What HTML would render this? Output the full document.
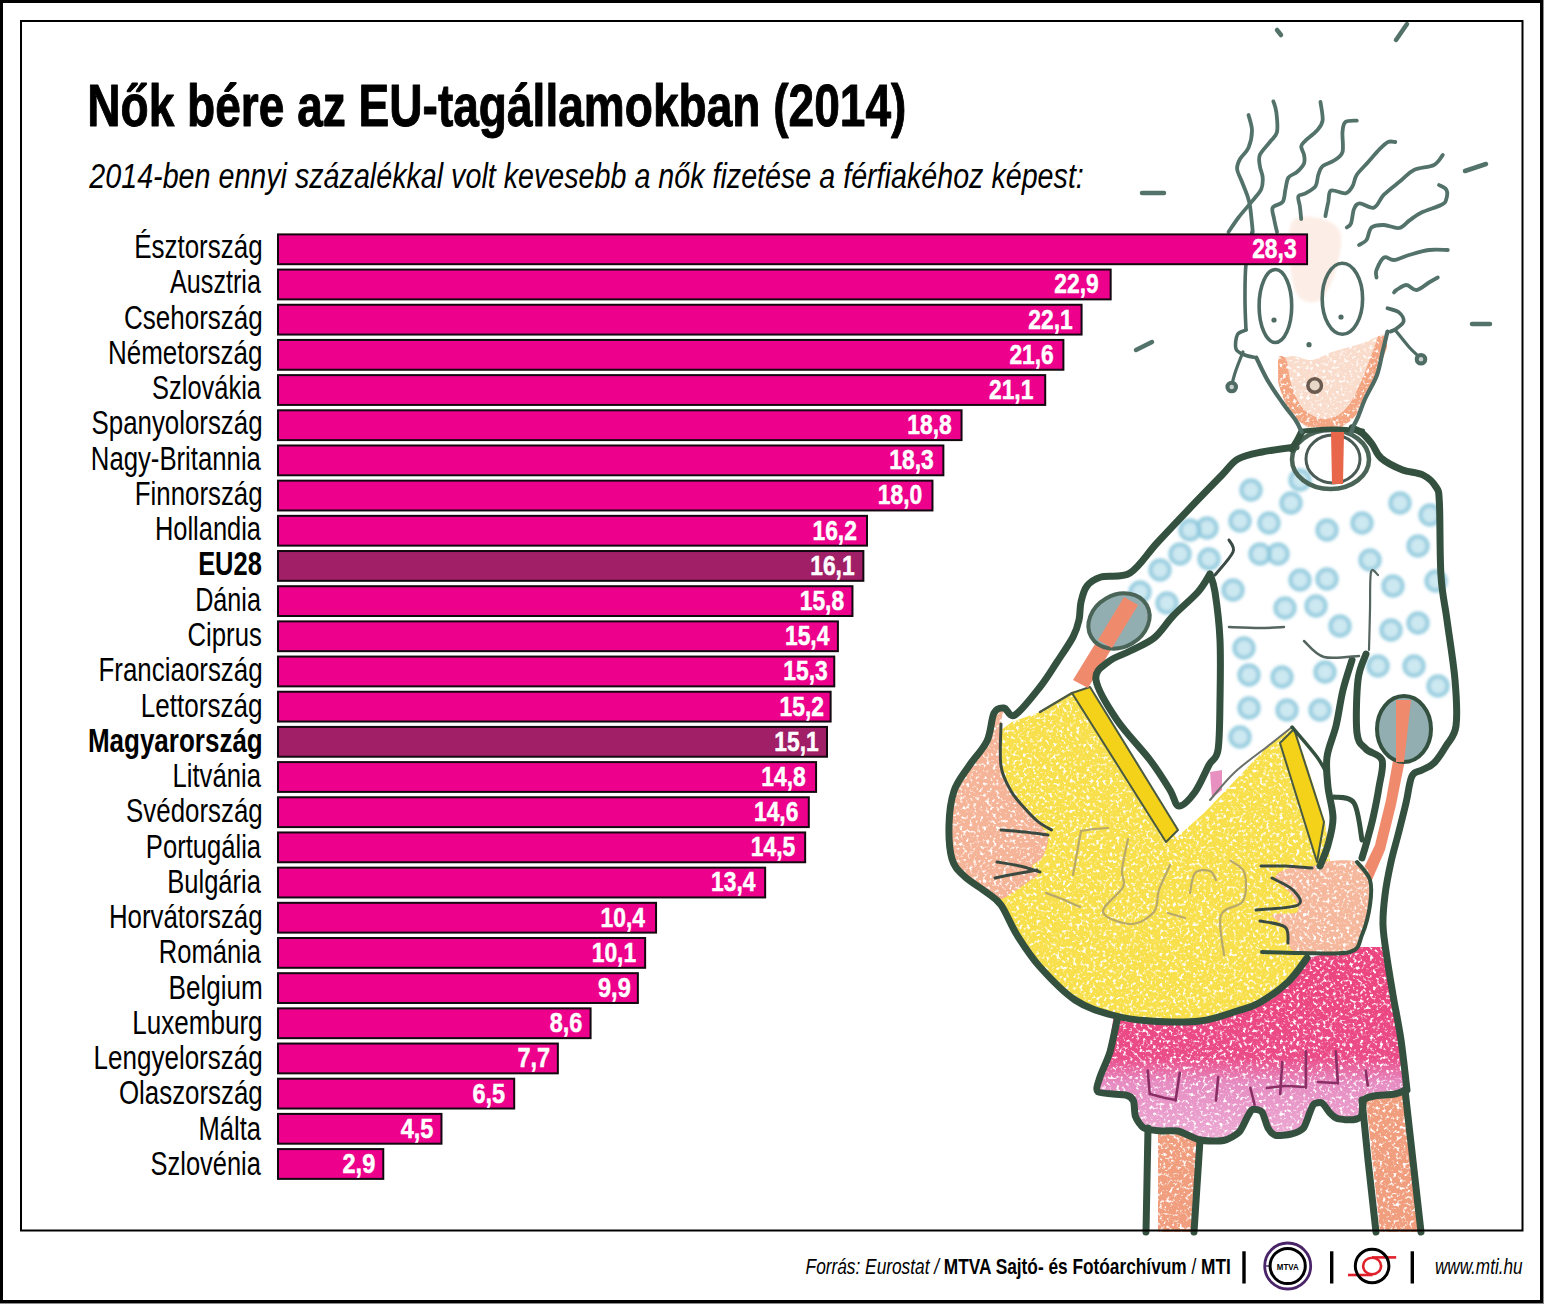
<!DOCTYPE html>
<html><head><meta charset="utf-8"><style>
html,body{margin:0;padding:0;background:#fff;overflow:hidden;}
svg{display:block;font-family:'Liberation Sans', sans-serif;}
</style></head><body>
<svg width="1544" height="1304" viewBox="0 0 1544 1304">
<rect width="1544" height="1304" fill="#fff"/>
<g id="illus">
<defs>
<filter id="blur1" x="-20%" y="-20%" width="140%" height="140%"><feGaussianBlur stdDeviation="1.8"/></filter>
<linearGradient id="skirtg" x1="0" y1="990" x2="0" y2="1150" gradientUnits="userSpaceOnUse">
<stop offset="0" stop-color="#ec4680"/><stop offset="0.42" stop-color="#ea4c88"/><stop offset="0.58" stop-color="#e68cc2"/><stop offset="1" stop-color="#eeb2d8"/></linearGradient>
<filter id="crayon" x="-2%" y="-2%" width="104%" height="104%" color-interpolation-filters="sRGB">
<feTurbulence type="fractalNoise" baseFrequency="0.3" numOctaves="2" seed="7" result="noise"/>
<feColorMatrix in="noise" type="matrix" values="0 0 0 0 1  0 0 0 0 1  0 0 0 0 1  5 0 0 0 -2.7" result="speck"/>
<feComposite in="speck" in2="SourceGraphic" operator="atop"/>
</filter>
</defs>
<path d="M1280.0,364.0 C1281.2,357.5 1286.7,356.7 1292.0,356.0 C1297.3,355.3 1305.3,360.7 1312.0,360.0 C1318.7,359.3 1324.0,354.7 1332.0,352.0 C1340.0,349.3 1351.0,346.8 1360.0,344.0 C1369.0,341.2 1383.0,332.0 1386.0,335.0 C1389.0,338.0 1381.5,352.8 1378.0,362.0 C1374.5,371.2 1369.5,381.3 1365.0,390.0 C1360.5,398.7 1355.8,407.7 1351.0,414.0 C1346.2,420.3 1342.5,425.3 1336.0,428.0 C1329.5,430.7 1318.7,432.0 1312.0,430.0 C1305.3,428.0 1300.5,421.8 1296.0,416.0 C1291.5,410.2 1287.7,403.7 1285.0,395.0 C1282.3,386.3 1278.8,370.5 1280.0,364.0Z" fill="#f9dccb" stroke="none" stroke-width="0" stroke-linecap="round" stroke-linejoin="round" filter="url(#crayon)"/>
<path d="M1281.0,362.0 C1281.8,366.3 1283.2,379.7 1286.0,388.0 C1288.8,396.3 1292.7,406.0 1298.0,412.0 C1303.3,418.0 1311.3,422.3 1318.0,424.0 C1324.7,425.7 1332.0,424.7 1338.0,422.0 C1344.0,419.3 1349.3,414.2 1354.0,408.0 C1358.7,401.8 1362.3,393.0 1366.0,385.0 C1369.7,377.0 1373.0,367.8 1376.0,360.0 C1379.0,352.2 1382.7,341.7 1384.0,338.0" fill="none" stroke="#f4a582" stroke-width="12" stroke-linecap="round" stroke-linejoin="round" filter="url(#crayon)"/>
<path d="M1292.0,222.0 C1296.7,214.7 1310.0,216.3 1318.0,218.0 C1326.0,219.7 1337.0,223.3 1340.0,232.0 C1343.0,240.7 1339.3,258.7 1336.0,270.0 C1332.7,281.3 1326.3,295.7 1320.0,300.0 C1313.7,304.3 1303.0,302.3 1298.0,296.0 C1293.0,289.7 1291.0,274.3 1290.0,262.0 C1289.0,249.7 1287.3,229.3 1292.0,222.0Z" fill="#f7cdb8" stroke="none" stroke-width="0" stroke-linecap="round" stroke-linejoin="round" opacity="0.35" filter="url(#blur1)"/>
<path d="M1158.0,1130.0 L1198.0,1138.0 L1192.0,1232.0 L1158.0,1232.0Z" fill="#f09e7e" stroke="none" stroke-width="0" stroke-linecap="round" stroke-linejoin="round" filter="url(#crayon)"/>
<path d="M1366.0,1100.0 L1404.0,1094.0 L1420.0,1232.0 L1380.0,1232.0Z" fill="#f09e7e" stroke="none" stroke-width="0" stroke-linecap="round" stroke-linejoin="round" filter="url(#crayon)"/>
<g filter="url(#blur1)"><circle cx="1251" cy="490" r="9.5" fill="#c4e4ef" stroke="#8cc8dc" stroke-width="4.5" opacity="0.85"/><circle cx="1291" cy="503" r="9.5" fill="#c4e4ef" stroke="#8cc8dc" stroke-width="4.5" opacity="0.85"/><circle cx="1362" cy="523" r="9.5" fill="#c4e4ef" stroke="#8cc8dc" stroke-width="4.5" opacity="0.85"/><circle cx="1400" cy="503" r="9.5" fill="#c4e4ef" stroke="#8cc8dc" stroke-width="4.5" opacity="0.85"/><circle cx="1418" cy="546" r="9.5" fill="#c4e4ef" stroke="#8cc8dc" stroke-width="4.5" opacity="0.85"/><circle cx="1240" cy="521" r="9.5" fill="#c4e4ef" stroke="#8cc8dc" stroke-width="4.5" opacity="0.85"/><circle cx="1269" cy="523" r="9.5" fill="#c4e4ef" stroke="#8cc8dc" stroke-width="4.5" opacity="0.85"/><circle cx="1327" cy="530" r="9.5" fill="#c4e4ef" stroke="#8cc8dc" stroke-width="4.5" opacity="0.85"/><circle cx="1278" cy="554" r="9.5" fill="#c4e4ef" stroke="#8cc8dc" stroke-width="4.5" opacity="0.85"/><circle cx="1260" cy="554" r="9.5" fill="#c4e4ef" stroke="#8cc8dc" stroke-width="4.5" opacity="0.85"/><circle cx="1207" cy="528" r="9.5" fill="#c4e4ef" stroke="#8cc8dc" stroke-width="4.5" opacity="0.85"/><circle cx="1180" cy="554" r="9.5" fill="#c4e4ef" stroke="#8cc8dc" stroke-width="4.5" opacity="0.85"/><circle cx="1160" cy="570" r="9.5" fill="#c4e4ef" stroke="#8cc8dc" stroke-width="4.5" opacity="0.85"/><circle cx="1209" cy="559" r="9.5" fill="#c4e4ef" stroke="#8cc8dc" stroke-width="4.5" opacity="0.85"/><circle cx="1167" cy="603" r="9.5" fill="#c4e4ef" stroke="#8cc8dc" stroke-width="4.5" opacity="0.85"/><circle cx="1233" cy="590" r="9.5" fill="#c4e4ef" stroke="#8cc8dc" stroke-width="4.5" opacity="0.85"/><circle cx="1327" cy="579" r="9.5" fill="#c4e4ef" stroke="#8cc8dc" stroke-width="4.5" opacity="0.85"/><circle cx="1285" cy="608" r="9.5" fill="#c4e4ef" stroke="#8cc8dc" stroke-width="4.5" opacity="0.85"/><circle cx="1316" cy="606" r="9.5" fill="#c4e4ef" stroke="#8cc8dc" stroke-width="4.5" opacity="0.85"/><circle cx="1340" cy="626" r="9.5" fill="#c4e4ef" stroke="#8cc8dc" stroke-width="4.5" opacity="0.85"/><circle cx="1393" cy="586" r="9.5" fill="#c4e4ef" stroke="#8cc8dc" stroke-width="4.5" opacity="0.85"/><circle cx="1391" cy="630" r="9.5" fill="#c4e4ef" stroke="#8cc8dc" stroke-width="4.5" opacity="0.85"/><circle cx="1418" cy="623" r="9.5" fill="#c4e4ef" stroke="#8cc8dc" stroke-width="4.5" opacity="0.85"/><circle cx="1436" cy="581" r="9.5" fill="#c4e4ef" stroke="#8cc8dc" stroke-width="4.5" opacity="0.85"/><circle cx="1244" cy="648" r="9.5" fill="#c4e4ef" stroke="#8cc8dc" stroke-width="4.5" opacity="0.85"/><circle cx="1249" cy="675" r="9.5" fill="#c4e4ef" stroke="#8cc8dc" stroke-width="4.5" opacity="0.85"/><circle cx="1282" cy="677" r="9.5" fill="#c4e4ef" stroke="#8cc8dc" stroke-width="4.5" opacity="0.85"/><circle cx="1325" cy="672" r="9.5" fill="#c4e4ef" stroke="#8cc8dc" stroke-width="4.5" opacity="0.85"/><circle cx="1378" cy="666" r="9.5" fill="#c4e4ef" stroke="#8cc8dc" stroke-width="4.5" opacity="0.85"/><circle cx="1414" cy="666" r="9.5" fill="#c4e4ef" stroke="#8cc8dc" stroke-width="4.5" opacity="0.85"/><circle cx="1438" cy="686" r="9.5" fill="#c4e4ef" stroke="#8cc8dc" stroke-width="4.5" opacity="0.85"/><circle cx="1249" cy="708" r="9.5" fill="#c4e4ef" stroke="#8cc8dc" stroke-width="4.5" opacity="0.85"/><circle cx="1287" cy="710" r="9.5" fill="#c4e4ef" stroke="#8cc8dc" stroke-width="4.5" opacity="0.85"/><circle cx="1320" cy="710" r="9.5" fill="#c4e4ef" stroke="#8cc8dc" stroke-width="4.5" opacity="0.85"/><circle cx="1240" cy="737" r="9.5" fill="#c4e4ef" stroke="#8cc8dc" stroke-width="4.5" opacity="0.85"/><circle cx="1140" cy="592" r="9.5" fill="#c4e4ef" stroke="#8cc8dc" stroke-width="4.5" opacity="0.85"/><circle cx="1190" cy="530" r="9.5" fill="#c4e4ef" stroke="#8cc8dc" stroke-width="4.5" opacity="0.85"/><circle cx="1300" cy="480" r="9.5" fill="#c4e4ef" stroke="#8cc8dc" stroke-width="4.5" opacity="0.85"/><circle cx="1430" cy="515" r="9.5" fill="#c4e4ef" stroke="#8cc8dc" stroke-width="4.5" opacity="0.85"/><circle cx="1370" cy="560" r="9.5" fill="#c4e4ef" stroke="#8cc8dc" stroke-width="4.5" opacity="0.85"/><circle cx="1300" cy="580" r="9.5" fill="#c4e4ef" stroke="#8cc8dc" stroke-width="4.5" opacity="0.85"/></g>
<path d="M1117.0,995.0 L1110.0,1040.0 L1100.0,1077.0 L1099.0,1095.0 L1126.0,1095.0 L1133.5,1101.0 L1135.5,1116.6 L1143.8,1128.0 L1161.5,1131.0 L1178.0,1131.0 L1200.0,1140.0 L1223.6,1140.5 L1239.2,1132.0 L1247.5,1116.6 L1252.6,1109.4 L1262.0,1112.0 L1268.0,1128.0 L1275.5,1135.3 L1291.0,1134.2 L1303.5,1128.0 L1310.0,1112.0 L1314.0,1104.0 L1322.0,1103.0 L1330.0,1113.0 L1337.7,1118.7 L1353.3,1119.7 L1361.5,1115.6 L1364.0,1100.0 L1374.0,1096.0 L1394.7,1094.0 L1406.0,1090.0 L1401.0,1040.0 L1393.0,995.0 L1387.0,958.0 L1384.0,947.0 L1354.0,947.0 L1300.0,960.0 L1200.0,990.0Z" fill="url(#skirtg)" stroke="none" stroke-width="0" stroke-linecap="round" stroke-linejoin="round" filter="url(#crayon)"/>
<path d="M1210.0,772.0 L1222.0,770.0 L1222.0,790.0 L1212.0,798.0Z" fill="#e890c0" stroke="none" stroke-width="0" stroke-linecap="round" stroke-linejoin="round" />
<path d="M1176.0,838.0 L1090.0,688.0 L1072.0,692.0 L1040.0,712.0 L1012.0,722.0 L1001.0,730.0 L990.0,770.0 L975.0,820.0 L980.0,870.0 L1000.0,900.0 L1017.0,935.0 L1040.0,967.0 L1075.0,1000.0 L1112.0,1015.0 L1150.0,1021.0 L1200.0,1021.0 L1237.0,1011.0 L1259.0,1003.0 L1296.0,972.0 L1315.0,940.0 L1325.0,900.0 L1330.0,860.0 L1325.0,822.0 L1296.0,731.0 L1292.0,727.0 L1268.0,746.0 L1204.0,813.0Z" fill="#f8e04c" stroke="none" stroke-width="0" stroke-linecap="round" stroke-linejoin="round" filter="url(#crayon)"/>
<path d="M1072.0,693.0 L1090.0,687.0 L1178.0,830.0 L1166.0,842.0Z" fill="#f4d21a" stroke="#4a5a40" stroke-width="2" stroke-linecap="round" stroke-linejoin="round" />
<path d="M1280.0,743.0 L1294.0,729.0 L1324.0,822.0 L1317.0,862.0Z" fill="#f4d21a" stroke="#4a5a40" stroke-width="2" stroke-linecap="round" stroke-linejoin="round" />
<path d="M1292.0,727.0 C1288.0,730.2 1277.5,738.5 1268.0,746.0 C1258.5,753.5 1244.7,763.0 1235.0,772.0 C1225.3,781.0 1214.2,795.3 1210.0,800.0" fill="none" stroke="#6a7068" stroke-width="2" stroke-linecap="round" stroke-linejoin="round" />
<path d="M1040.0,712.0 C1045.3,708.8 1066.7,696.2 1072.0,693.0" fill="none" stroke="#4a5a40" stroke-width="2.5" stroke-linecap="round" stroke-linejoin="round" />
<path d="M1081.0,831.0 C1083.2,830.7 1089.5,829.5 1094.0,829.0 C1098.5,828.5 1105.7,828.2 1108.0,828.0" fill="none" stroke="#b8a86a" stroke-width="2.2" stroke-linecap="round" stroke-linejoin="round" />
<path d="M1081.0,831.0 C1080.3,834.7 1078.3,845.7 1077.0,853.0 C1075.7,860.3 1073.7,871.3 1073.0,875.0" fill="none" stroke="#b8a86a" stroke-width="2.2" stroke-linecap="round" stroke-linejoin="round" />
<path d="M1046.0,893.0 C1048.7,894.0 1056.3,896.7 1062.0,899.0 C1067.7,901.3 1077.0,905.7 1080.0,907.0" fill="none" stroke="#b8a86a" stroke-width="2.2" stroke-linecap="round" stroke-linejoin="round" />
<path d="M1128.0,839.0 C1127.0,844.2 1122.8,862.0 1122.0,870.0 C1121.2,878.0 1126.2,880.0 1123.0,887.0 C1119.8,894.0 1101.7,905.8 1103.0,912.0 C1104.3,918.2 1122.5,924.0 1131.0,924.0 C1139.5,924.0 1149.3,917.7 1154.0,912.0 C1158.7,906.3 1156.3,897.8 1159.0,890.0 C1161.7,882.2 1168.2,869.2 1170.0,865.0" fill="none" stroke="#b8a86a" stroke-width="2.2" stroke-linecap="round" stroke-linejoin="round" />
<path d="M1190.0,893.0 C1190.8,889.7 1191.7,876.7 1195.0,873.0 C1198.3,869.3 1206.5,869.8 1210.0,871.0 C1213.5,872.2 1215.0,878.5 1216.0,880.0" fill="none" stroke="#b8a86a" stroke-width="2.2" stroke-linecap="round" stroke-linejoin="round" />
<path d="M1168.0,913.0 C1170.8,913.8 1182.2,917.2 1185.0,918.0" fill="none" stroke="#b8a86a" stroke-width="2.2" stroke-linecap="round" stroke-linejoin="round" />
<path d="M1230.5,860.6 C1232.8,862.7 1242.4,866.3 1244.5,873.0 C1246.6,879.7 1246.9,894.0 1243.0,901.0 C1239.1,908.0 1224.2,906.0 1221.0,915.0 C1217.8,924.0 1223.5,948.3 1224.0,955.0" fill="none" stroke="#b8a86a" stroke-width="2.2" stroke-linecap="round" stroke-linejoin="round" />
<path d="M1122.0,600.0 L1136.0,608.0 L1088.0,688.0 L1073.0,680.0Z" fill="#ef8a6c" stroke="none" stroke-width="0" stroke-linecap="round" stroke-linejoin="round" />
<path d="M1394.0,700.0 L1412.0,700.0 L1405.0,760.0 L1396.0,805.0 L1385.0,850.0 L1372.0,880.0 L1360.0,876.0 L1375.0,845.0 L1386.0,800.0 L1394.0,755.0Z" fill="#ef8a6c" stroke="none" stroke-width="0" stroke-linecap="round" stroke-linejoin="round" />
<path d="M1004.0,709.0 C1002.8,707.3 996.8,708.7 994.0,714.0 C991.2,719.3 991.2,732.3 987.0,741.0 C982.8,749.7 974.5,757.7 969.0,766.0 C963.5,774.3 957.3,781.2 954.0,791.0 C950.7,800.8 949.3,813.7 949.0,825.0 C948.7,836.3 949.5,850.5 952.0,859.0 C954.5,867.5 958.3,870.5 964.0,876.0 C969.7,881.5 980.0,888.2 986.0,892.0 C992.0,895.8 995.7,898.8 1000.0,899.0 C1004.3,899.2 1007.3,895.8 1012.0,893.0 C1016.7,890.2 1023.7,885.2 1028.0,882.0 C1032.3,878.8 1037.3,876.7 1038.0,874.0 C1038.7,871.3 1031.3,868.7 1032.0,866.0 C1032.7,863.3 1039.3,862.7 1042.0,858.0 C1044.7,853.3 1048.7,844.0 1048.0,838.0 C1047.3,832.0 1042.0,827.0 1038.0,822.0 C1034.0,817.0 1028.5,813.2 1024.0,808.0 C1019.5,802.8 1014.8,798.0 1011.0,791.0 C1007.2,784.0 1002.7,777.2 1001.0,766.0 C999.3,754.8 1000.5,733.5 1001.0,724.0 C1001.5,714.5 1005.2,710.7 1004.0,709.0Z" fill="#f5b498" stroke="none" stroke-width="0" stroke-linecap="round" stroke-linejoin="round" filter="url(#crayon)"/>
<path d="M1331.0,861.0 C1323.5,861.7 1318.8,864.8 1312.0,866.0 C1305.2,867.2 1296.2,866.0 1290.0,868.0 C1283.8,870.0 1274.5,873.3 1275.0,878.0 C1275.5,882.7 1289.3,890.3 1293.0,896.0 C1296.7,901.7 1300.5,908.8 1297.0,912.0 C1293.5,915.2 1273.8,912.3 1272.0,915.0 C1270.2,917.7 1283.3,923.3 1286.0,928.0 C1288.7,932.7 1285.7,938.8 1288.0,943.0 C1290.3,947.2 1289.7,951.5 1300.0,953.0 C1310.3,954.5 1339.7,955.0 1350.0,952.0 C1360.3,949.0 1358.7,942.8 1362.0,935.0 C1365.3,927.2 1368.7,915.0 1370.0,905.0 C1371.3,895.0 1372.2,882.2 1370.0,875.0 C1367.8,867.8 1363.5,864.3 1357.0,862.0 C1350.5,859.7 1338.5,860.3 1331.0,861.0Z" fill="#f6b89c" stroke="none" stroke-width="0" stroke-linecap="round" stroke-linejoin="round" filter="url(#crayon)"/>
<path d="M1296.0,447.0 C1290.3,447.8 1271.7,450.0 1262.0,452.0 C1252.3,454.0 1244.7,455.2 1238.0,459.0 C1231.3,462.8 1230.0,466.8 1222.0,475.0 C1214.0,483.2 1200.8,496.7 1190.0,508.0 C1179.2,519.3 1167.0,532.2 1157.0,543.0 C1147.0,553.8 1139.3,567.3 1130.0,573.0 C1120.7,578.7 1108.2,574.8 1101.0,577.0 C1093.8,579.2 1090.3,581.8 1087.0,586.0 C1083.7,590.2 1082.3,596.3 1081.0,602.0 C1079.7,607.7 1080.3,614.2 1079.0,620.0 C1077.7,625.8 1076.7,630.0 1073.0,637.0 C1069.3,644.0 1062.5,653.7 1057.0,662.0 C1051.5,670.3 1047.0,678.2 1040.0,687.0 C1033.0,695.8 1021.0,711.5 1015.0,715.0 C1009.0,718.5 1007.5,708.3 1004.0,708.0 C1000.5,707.7 996.8,707.5 994.0,713.0 C991.2,718.5 991.2,732.2 987.0,741.0 C982.8,749.8 974.5,757.7 969.0,766.0 C963.5,774.3 957.3,781.2 954.0,791.0 C950.7,800.8 949.3,813.7 949.0,825.0 C948.7,836.3 949.5,850.5 952.0,859.0 C954.5,867.5 958.3,870.5 964.0,876.0 C969.7,881.5 979.8,887.2 986.0,892.0 C992.2,896.8 995.8,897.8 1001.0,905.0 C1006.2,912.2 1010.5,924.7 1017.0,935.0 C1023.5,945.3 1030.3,956.2 1040.0,967.0 C1049.7,977.8 1063.0,992.0 1075.0,1000.0 C1087.0,1008.0 1099.5,1011.5 1112.0,1015.0 C1124.5,1018.5 1135.3,1020.0 1150.0,1021.0 C1164.7,1022.0 1185.5,1022.7 1200.0,1021.0 C1214.5,1019.3 1227.2,1014.0 1237.0,1011.0 C1246.8,1008.0 1250.5,1007.8 1259.0,1003.0 C1267.5,998.2 1280.0,989.5 1288.0,982.0 C1296.0,974.5 1303.8,962.0 1307.0,958.0" fill="none" stroke="#34503f" stroke-width="7" stroke-linecap="round" stroke-linejoin="round" />
<path d="M1210.0,574.0 C1208.0,577.0 1204.2,585.0 1198.0,592.0 C1191.8,599.0 1180.3,608.3 1173.0,616.0 C1165.7,623.7 1161.2,632.2 1154.0,638.0 C1146.8,643.8 1137.7,647.0 1130.0,651.0 C1122.3,655.0 1113.7,657.2 1108.0,662.0 C1102.3,666.8 1094.5,670.3 1096.0,680.0 C1097.5,689.7 1108.0,706.7 1117.0,720.0 C1126.0,733.3 1141.2,748.3 1150.0,760.0 C1158.8,771.7 1165.2,782.3 1170.0,790.0 C1174.8,797.7 1174.8,805.7 1179.0,806.0 C1183.2,806.3 1190.0,798.8 1195.0,792.0 C1200.0,785.2 1205.2,772.0 1209.0,765.0 C1212.8,758.0 1216.2,760.8 1218.0,750.0 C1219.8,739.2 1219.7,718.3 1220.0,700.0 C1220.3,681.7 1220.8,658.0 1220.0,640.0 C1219.2,622.0 1216.7,603.0 1215.0,592.0 C1213.3,581.0 1210.8,577.0 1210.0,574.0" fill="none" stroke="#34503f" stroke-width="7" stroke-linecap="round" stroke-linejoin="round" />
<path d="M1001.0,724.0 C1001.0,731.0 999.3,754.8 1001.0,766.0 C1002.7,777.2 1007.1,784.0 1011.0,791.0 C1014.9,798.0 1020.0,802.9 1024.5,808.0 C1029.0,813.1 1033.5,817.9 1038.0,821.6 C1042.5,825.3 1049.2,828.6 1051.5,830.0" fill="none" stroke="#3a4a40" stroke-width="3" stroke-linecap="round" stroke-linejoin="round" />
<path d="M1001.0,830.0 C1005.0,830.3 1017.2,831.2 1025.0,832.0 C1032.8,832.8 1044.2,834.5 1048.0,835.0" fill="none" stroke="#3a4a40" stroke-width="3" stroke-linecap="round" stroke-linejoin="round" />
<path d="M997.0,862.0 C1000.8,862.7 1012.8,864.3 1020.0,866.0 C1027.2,867.7 1036.7,871.0 1040.0,872.0" fill="none" stroke="#3a4a40" stroke-width="3" stroke-linecap="round" stroke-linejoin="round" />
<path d="M995.0,878.0 C998.3,877.3 1008.0,875.3 1015.0,874.0 C1022.0,872.7 1033.3,870.7 1037.0,870.0" fill="none" stroke="#3a4a40" stroke-width="3" stroke-linecap="round" stroke-linejoin="round" />
<ellipse cx="1119" cy="621" rx="32" ry="26" transform="rotate(-30 1119 621)" fill="#93aeb0" stroke="#4a6458" stroke-width="4"/>
<path d="M1124.0,597.0 L1138.0,605.0 L1112.0,648.0 L1098.0,640.0Z" fill="#ef8a6c" stroke="none" stroke-width="0" stroke-linecap="round" stroke-linejoin="round" />
<path d="M1352.0,428.0 C1353.7,428.8 1358.7,430.3 1362.0,433.0 C1365.3,435.7 1368.8,439.8 1372.0,444.0 C1375.2,448.2 1376.0,453.7 1381.0,458.0 C1386.0,462.3 1395.0,466.9 1402.0,469.7 C1409.0,472.5 1417.3,472.1 1423.0,475.0 C1428.7,477.9 1433.3,482.3 1436.0,487.0 C1438.7,491.7 1438.6,488.2 1439.4,503.0 C1440.2,517.8 1439.7,556.5 1441.0,576.0 C1442.3,595.5 1444.7,602.7 1447.0,620.0 C1449.3,637.3 1453.5,662.3 1455.0,680.0 C1456.5,697.7 1457.5,715.0 1456.0,726.0 C1454.5,737.0 1449.7,739.8 1446.0,746.0 C1442.3,752.2 1438.0,759.0 1434.0,763.0 C1430.0,767.0 1425.7,767.8 1422.0,770.0 C1418.3,772.2 1414.7,770.5 1412.0,776.0 C1409.3,781.5 1408.3,793.2 1406.0,803.0 C1403.7,812.8 1400.5,825.2 1398.0,835.0 C1395.5,844.8 1393.2,852.0 1391.0,862.0 C1388.8,872.0 1386.3,884.5 1385.0,895.0 C1383.7,905.5 1382.7,914.5 1383.0,925.0 C1383.3,935.5 1385.3,946.3 1387.0,958.0 C1388.7,969.7 1390.7,981.3 1393.0,995.0 C1395.3,1008.7 1398.7,1024.2 1401.0,1040.0 C1403.3,1055.8 1406.0,1081.7 1407.0,1090.0" fill="none" stroke="#34503f" stroke-width="7" stroke-linecap="round" stroke-linejoin="round" />
<path d="M1366.0,654.0 C1364.7,658.3 1359.5,666.8 1358.0,680.0 C1356.5,693.2 1355.7,721.5 1357.0,733.0 C1358.3,744.5 1361.8,744.5 1366.0,749.0 C1370.2,753.5 1379.8,753.7 1382.0,760.0 C1384.2,766.3 1380.5,777.3 1379.0,787.0 C1377.5,796.7 1375.0,809.0 1373.0,818.0 C1371.0,827.0 1368.8,834.3 1367.0,841.0 C1365.2,847.7 1362.8,855.2 1362.0,858.0" fill="none" stroke="#34503f" stroke-width="7" stroke-linecap="round" stroke-linejoin="round" />
<ellipse cx="1404" cy="729" rx="27" ry="33" fill="#93aeb0" stroke="#34503f" stroke-width="4"/>
<path d="M1396.0,700.0 L1411.0,700.0 L1406.0,745.0 L1404.0,762.0 L1396.0,762.0 L1396.0,745.0Z" fill="#ef8a6c" stroke="none" stroke-width="0" stroke-linecap="round" stroke-linejoin="round" />
<path d="M1352.0,660.0 C1350.5,665.0 1345.7,679.0 1343.0,690.0 C1340.3,701.0 1338.7,714.8 1336.0,726.0 C1333.3,737.2 1328.3,746.8 1327.0,757.0 C1325.7,767.2 1327.0,776.8 1328.0,787.0 C1329.0,797.2 1333.0,808.3 1333.0,818.0 C1333.0,827.7 1330.2,837.0 1328.0,845.0 C1325.8,853.0 1321.3,862.5 1320.0,866.0" fill="none" stroke="#34503f" stroke-width="7" stroke-linecap="round" stroke-linejoin="round" />
<path d="M1334.0,797.0 C1337.3,798.0 1349.3,795.8 1354.0,803.0 C1358.7,810.2 1360.7,833.8 1362.0,840.0" fill="none" stroke="#34503f" stroke-width="5" stroke-linecap="round" stroke-linejoin="round" />
<path d="M1292.0,727.0 C1296.2,732.0 1311.0,748.8 1317.0,757.0 C1323.0,765.2 1326.2,772.8 1328.0,776.0" fill="none" stroke="#34503f" stroke-width="3.5" stroke-linecap="round" stroke-linejoin="round" />
<path d="M1357.0,862.0 C1359.2,865.0 1367.8,872.8 1370.0,880.0 C1372.2,887.2 1371.3,895.8 1370.0,905.0 C1368.7,914.2 1365.3,927.2 1362.0,935.0 C1358.7,942.8 1360.3,949.0 1350.0,952.0 C1339.7,955.0 1314.7,953.0 1300.0,953.0 C1285.3,953.0 1268.3,952.2 1262.0,952.0" fill="none" stroke="#34503f" stroke-width="4" stroke-linecap="round" stroke-linejoin="round" />
<path d="M1312.0,868.0 C1307.5,867.7 1293.5,866.3 1285.0,866.0 C1276.5,865.7 1265.0,866.0 1261.0,866.0" fill="none" stroke="#3a4a40" stroke-width="3" stroke-linecap="round" stroke-linejoin="round" />
<path d="M1272.0,878.0 C1275.5,880.0 1288.7,885.5 1293.0,890.0 C1297.3,894.5 1304.2,901.7 1298.0,905.0 C1291.8,908.3 1263.0,909.2 1256.0,910.0" fill="none" stroke="#3a4a40" stroke-width="3" stroke-linecap="round" stroke-linejoin="round" />
<path d="M1260.0,921.0 C1264.2,922.0 1280.3,923.3 1285.0,927.0 C1289.7,930.7 1287.5,940.3 1288.0,943.0" fill="none" stroke="#3a4a40" stroke-width="3" stroke-linecap="round" stroke-linejoin="round" />
<path d="M1117.5,1018.0 C1116.6,1022.0 1112.0,1045.1 1110.0,1052.0 C1108.0,1058.9 1101.4,1072.3 1100.0,1077.0 C1098.6,1081.7 1095.0,1089.9 1098.0,1092.0 C1101.0,1094.1 1121.9,1094.0 1126.0,1095.0 C1130.1,1096.0 1132.4,1098.5 1133.5,1101.0 C1134.6,1103.5 1134.3,1113.4 1135.5,1116.6 C1136.7,1119.8 1140.8,1126.3 1143.8,1128.0 C1146.8,1129.7 1157.5,1130.7 1161.5,1131.0 C1165.5,1131.3 1173.5,1130.0 1178.0,1131.0 C1182.5,1132.0 1194.7,1138.9 1200.0,1140.0 C1205.3,1141.1 1219.0,1141.4 1223.6,1140.5 C1228.2,1139.6 1236.4,1134.8 1239.2,1132.0 C1242.0,1129.2 1245.9,1119.2 1247.5,1116.6 C1249.1,1114.0 1250.9,1109.9 1252.6,1109.4 C1254.3,1108.9 1260.2,1109.8 1262.0,1112.0 C1263.8,1114.2 1266.4,1125.3 1268.0,1128.0 C1269.6,1130.7 1272.8,1134.6 1275.5,1135.3 C1278.2,1136.0 1287.7,1135.1 1291.0,1134.2 C1294.3,1133.3 1301.3,1130.6 1303.5,1128.0 C1305.7,1125.4 1308.8,1114.8 1310.0,1112.0 C1311.2,1109.2 1312.6,1105.0 1314.0,1104.0 C1315.4,1103.0 1320.1,1102.0 1322.0,1103.0 C1323.9,1104.0 1328.2,1111.2 1330.0,1113.0 C1331.8,1114.8 1335.0,1117.9 1337.7,1118.7 C1340.4,1119.5 1350.5,1120.1 1353.3,1119.7 C1356.1,1119.3 1360.3,1117.9 1361.5,1115.6 C1362.7,1113.3 1362.5,1102.3 1364.0,1100.0 C1365.5,1097.7 1370.4,1096.7 1374.0,1096.0 C1377.6,1095.3 1391.0,1094.7 1394.7,1094.0 C1398.4,1093.3 1404.7,1090.5 1406.0,1090.0" fill="none" stroke="#34503f" stroke-width="7" stroke-linecap="round" stroke-linejoin="round" />
<path d="M1147.7,1070.6 C1148.0,1074.5 1149.5,1090.1 1149.8,1094.0" fill="none" stroke="#8a2f66" stroke-width="2.6" stroke-linecap="round" stroke-linejoin="round" />
<path d="M1179.8,1072.7 C1179.1,1077.3 1176.2,1095.9 1175.5,1100.5" fill="none" stroke="#8a2f66" stroke-width="2.6" stroke-linecap="round" stroke-linejoin="round" />
<path d="M1218.2,1077.0 C1217.8,1080.9 1216.4,1096.6 1216.0,1100.5" fill="none" stroke="#8a2f66" stroke-width="2.6" stroke-linecap="round" stroke-linejoin="round" />
<path d="M1250.3,1087.7 C1251.0,1090.5 1253.9,1102.0 1254.6,1104.8" fill="none" stroke="#8a2f66" stroke-width="2.6" stroke-linecap="round" stroke-linejoin="round" />
<path d="M1282.3,1062.0 C1282.0,1067.3 1280.5,1088.7 1280.2,1094.0" fill="none" stroke="#8a2f66" stroke-width="2.6" stroke-linecap="round" stroke-linejoin="round" />
<path d="M1305.9,1051.4 C1305.9,1057.5 1305.9,1081.7 1305.9,1087.7" fill="none" stroke="#8a2f66" stroke-width="2.6" stroke-linecap="round" stroke-linejoin="round" />
<path d="M1335.8,1051.4 C1336.2,1056.7 1337.6,1078.1 1337.9,1083.4" fill="none" stroke="#8a2f66" stroke-width="2.6" stroke-linecap="round" stroke-linejoin="round" />
<path d="M1365.7,1070.6 C1366.0,1073.1 1367.5,1083.1 1367.8,1085.6" fill="none" stroke="#8a2f66" stroke-width="2.6" stroke-linecap="round" stroke-linejoin="round" />
<path d="M1267.0,1088.0 C1270.0,1087.7 1278.9,1086.2 1285.0,1086.0 C1291.1,1085.8 1300.6,1086.8 1303.7,1087.0" fill="none" stroke="#8a2f66" stroke-width="2.6" stroke-linecap="round" stroke-linejoin="round" />
<path d="M1318.0,1082.0 C1321.0,1082.2 1333.0,1082.8 1336.0,1083.0" fill="none" stroke="#8a2f66" stroke-width="2.6" stroke-linecap="round" stroke-linejoin="round" />
<path d="M1150.0,1094.0 C1152.5,1094.7 1160.7,1097.0 1165.0,1098.0 C1169.3,1099.0 1174.2,1099.7 1176.0,1100.0" fill="none" stroke="#8a2f66" stroke-width="2.6" stroke-linecap="round" stroke-linejoin="round" />
<path d="M1148,1128 L1146,1232" fill="none" stroke="#34503f" stroke-width="7" stroke-linecap="round" stroke-linejoin="round" />
<path d="M1200,1140 L1194,1232" fill="none" stroke="#34503f" stroke-width="7" stroke-linecap="round" stroke-linejoin="round" />
<path d="M1362,1100 L1368,1160 L1376,1232" fill="none" stroke="#34503f" stroke-width="7" stroke-linecap="round" stroke-linejoin="round" />
<path d="M1405,1090 L1421,1232" fill="none" stroke="#34503f" stroke-width="7" stroke-linecap="round" stroke-linejoin="round" />
<ellipse cx="1330.5" cy="459.5" rx="38.5" ry="29.5" fill="none" stroke="#4a6458" stroke-width="4.5"/>
<ellipse cx="1333" cy="459" rx="27" ry="24" fill="none" stroke="#4a5a55" stroke-width="3"/>
<path d="M1331.0,432.0 L1344.0,432.0 L1343.0,484.0 L1332.0,484.0Z" fill="#e8664a" stroke="none" stroke-width="0" stroke-linecap="round" stroke-linejoin="round" />
<path d="M1301.6,432.0 C1300.8,433.5 1298.6,438.2 1297.0,441.0 C1295.4,443.8 1292.8,447.7 1292.0,449.0" fill="none" stroke="#34503f" stroke-width="7" stroke-linecap="round" stroke-linejoin="round" />
<path d="M1303.7,431.0 C1308.6,430.7 1323.2,429.0 1333.0,429.0 C1342.8,429.0 1357.7,430.7 1362.6,431.0" fill="none" stroke="#34503f" stroke-width="5" stroke-linecap="round" stroke-linejoin="round" />
<path d="M1229.0,627.0 C1234.2,627.2 1250.8,628.0 1260.0,628.0 C1269.2,628.0 1280.0,627.2 1284.0,627.0" fill="none" stroke="#556560" stroke-width="2.5" stroke-linecap="round" stroke-linejoin="round" />
<path d="M1304.0,641.0 C1307.3,643.7 1314.8,654.5 1324.0,657.0 C1333.2,659.5 1353.2,656.2 1359.0,656.0" fill="none" stroke="#556560" stroke-width="2.5" stroke-linecap="round" stroke-linejoin="round" />
<path d="M1229.0,540.0 C1229.7,542.0 1235.3,546.2 1233.0,552.0 C1230.7,557.8 1218.0,571.2 1215.0,575.0" fill="none" stroke="#3a4a45" stroke-width="3" stroke-linecap="round" stroke-linejoin="round" />
<path d="M1369.0,650.0 C1369.2,643.3 1369.7,623.0 1370.0,610.0 C1370.3,597.0 1369.7,577.8 1371.0,572.0 C1372.3,566.2 1376.8,574.5 1378.0,575.0" fill="none" stroke="#556560" stroke-width="2.2" stroke-linecap="round" stroke-linejoin="round" />
<path d="M1252.0,232.0 C1251.0,237.3 1247.2,252.7 1246.0,264.0 C1244.8,275.3 1245.0,289.0 1245.0,300.0 C1245.0,311.0 1245.8,325.0 1246.0,330.0" fill="none" stroke="#4e6b64" stroke-width="3.6" stroke-linecap="round" stroke-linejoin="round" />
<path d="M1246.0,330.0 C1244.6,330.8 1239.2,331.3 1237.5,334.5 C1235.8,337.7 1234.8,345.6 1236.0,349.0 C1237.2,352.4 1241.4,353.5 1244.8,355.0 C1248.2,356.5 1254.5,357.3 1256.4,357.8" fill="none" stroke="#4e6b64" stroke-width="3.6" stroke-linecap="round" stroke-linejoin="round" />
<path d="M1256.4,357.8 C1258.3,361.7 1263.6,373.5 1268.0,381.0 C1272.4,388.5 1278.0,396.4 1282.6,403.0 C1287.2,409.6 1292.6,415.7 1295.8,420.5 C1299.0,425.3 1300.6,430.1 1301.6,432.0" fill="none" stroke="#4e6b64" stroke-width="4.2" stroke-linecap="round" stroke-linejoin="round" />
<path d="M1387.5,331.6 C1386.8,334.7 1384.8,342.8 1383.0,350.0 C1381.2,357.2 1379.9,367.0 1377.0,375.0 C1374.1,383.0 1368.7,390.9 1365.5,398.0 C1362.3,405.1 1359.7,413.1 1357.7,417.7 C1355.8,422.3 1354.9,422.9 1353.8,425.5 C1352.7,428.1 1351.5,431.8 1351.0,433.0" fill="none" stroke="#4e6b64" stroke-width="4.2" stroke-linecap="round" stroke-linejoin="round" />
<ellipse cx="1275.4" cy="306" rx="16.3" ry="36.5" fill="none" stroke="#4e6b64" stroke-width="3.6"/>
<ellipse cx="1342.4" cy="298.8" rx="20.2" ry="35.5" fill="none" stroke="#4e6b64" stroke-width="3.6"/>
<circle cx="1274" cy="320" r="2.6" fill="#4e6b64"/>
<circle cx="1341" cy="317" r="2.6" fill="#4e6b64"/>
<circle cx="1309" cy="344.7" r="2.6" fill="#4e6b64"/>
<circle cx="1314.7" cy="385.5" r="6.8" fill="#e8d8c8" stroke="#6a5a50" stroke-width="3.5"/>
<path d="M1387.5,308.3 C1389.5,309.0 1396.5,310.4 1399.2,312.6 C1401.9,314.8 1404.1,318.7 1403.6,321.4 C1403.1,324.1 1398.5,327.0 1396.3,328.7 C1394.1,330.4 1391.5,331.1 1390.5,331.6" fill="none" stroke="#4e6b64" stroke-width="3.8" stroke-linecap="round" stroke-linejoin="round" />
<path d="M1396.0,331.0 C1398.2,333.7 1405.5,343.0 1409.0,347.0 C1412.5,351.0 1415.7,353.7 1417.0,355.0" fill="none" stroke="#4e6b64" stroke-width="3.2" stroke-linecap="round" stroke-linejoin="round" />
<circle cx="1421" cy="359.3" r="4.3" fill="#c8d0cc" stroke="#4e6b64" stroke-width="4"/>
<path d="M1243.0,352.0 C1241.8,355.0 1237.8,365.0 1236.0,370.0 C1234.2,375.0 1233.1,380.0 1232.5,382.0" fill="none" stroke="#4e6b64" stroke-width="3.2" stroke-linecap="round" stroke-linejoin="round" />
<circle cx="1231.7" cy="387" r="4.3" fill="#c8d0cc" stroke="#4e6b64" stroke-width="4"/>
<path d="M1248.5,115.0 C1249.1,117.6 1252.0,125.1 1252.0,130.6 C1252.0,136.0 1250.5,143.0 1248.5,147.7 C1246.5,152.4 1241.9,155.4 1240.0,159.0 C1238.1,162.6 1236.9,165.4 1237.1,169.0 C1237.3,172.6 1239.8,176.2 1241.4,180.5 C1243.1,184.8 1245.6,190.4 1247.0,194.7 C1248.4,198.9 1249.0,199.8 1250.0,206.0 C1251.0,212.2 1252.3,227.7 1252.8,232.0" fill="none" stroke="#52726a" stroke-width="3.8" stroke-linecap="round" stroke-linejoin="round" />
<path d="M1273.4,101.4 C1273.9,103.2 1275.7,106.9 1276.3,112.0 C1276.9,117.1 1278.1,127.0 1277.0,132.0 C1275.9,137.0 1272.8,138.2 1269.9,142.0 C1267.1,145.8 1261.6,150.8 1259.9,154.8 C1258.2,158.8 1259.4,162.4 1259.9,166.2 C1260.4,170.0 1262.5,173.8 1262.7,177.6 C1262.9,181.4 1263.0,185.2 1261.3,189.0 C1259.6,192.8 1256.6,195.7 1252.8,200.4 C1249.0,205.2 1242.5,212.2 1238.5,217.5 C1234.5,222.8 1230.2,229.6 1228.5,232.0" fill="none" stroke="#52726a" stroke-width="3.8" stroke-linecap="round" stroke-linejoin="round" />
<path d="M1320.5,102.0 C1320.8,105.1 1323.2,115.8 1322.6,120.6 C1322.0,125.4 1319.8,127.3 1316.9,130.6 C1314.1,133.9 1308.1,138.0 1305.5,140.6 C1302.9,143.2 1301.5,143.9 1301.2,146.3 C1301.0,148.7 1303.5,152.0 1304.0,154.8 C1304.5,157.7 1305.2,160.5 1304.0,163.4 C1302.8,166.3 1299.6,169.6 1297.0,172.0 C1294.4,174.4 1290.3,174.8 1288.4,177.6 C1286.5,180.4 1286.5,184.9 1285.5,189.0 C1284.5,193.1 1284.8,198.8 1282.7,201.9 C1280.6,205.0 1274.1,204.8 1272.7,207.6 C1271.3,210.4 1273.4,214.9 1274.1,219.0 C1274.8,223.1 1276.5,229.8 1277.0,232.0" fill="none" stroke="#52726a" stroke-width="3.8" stroke-linecap="round" stroke-linejoin="round" />
<path d="M1356.8,120.6 C1354.9,120.8 1347.8,120.1 1345.4,122.0 C1343.0,123.9 1343.0,127.0 1342.5,132.0 C1342.0,137.0 1343.9,147.2 1342.5,152.0 C1341.1,156.8 1337.3,158.1 1334.0,160.5 C1330.7,162.9 1325.2,163.8 1322.6,166.2 C1320.0,168.6 1319.5,171.5 1318.3,174.8 C1317.1,178.1 1317.6,183.1 1315.5,186.2 C1313.4,189.3 1308.3,191.6 1305.5,193.3 C1302.7,195.0 1299.4,194.1 1298.4,196.2 C1297.5,198.3 1299.3,202.3 1299.8,206.1 C1300.3,209.9 1301.0,216.8 1301.2,219.0" fill="none" stroke="#52726a" stroke-width="3.8" stroke-linecap="round" stroke-linejoin="round" />
<path d="M1395.3,142.0 C1394.1,142.0 1390.7,140.8 1388.1,142.0 C1385.5,143.2 1382.9,145.8 1379.6,149.1 C1376.3,152.4 1372.0,157.7 1368.2,162.0 C1364.4,166.3 1359.4,170.8 1356.8,174.8 C1354.2,178.8 1354.4,183.1 1352.5,186.2 C1350.6,189.3 1349.0,192.6 1345.4,193.3 C1341.8,194.0 1333.9,189.1 1331.1,190.5 C1328.2,191.9 1329.2,197.6 1328.3,201.9 C1327.3,206.2 1325.9,213.7 1325.4,216.1" fill="none" stroke="#52726a" stroke-width="3.8" stroke-linecap="round" stroke-linejoin="round" />
<path d="M1442.8,155.0 C1441.3,156.7 1438.8,162.5 1434.0,165.0 C1429.2,167.5 1419.5,167.4 1414.0,170.0 C1408.5,172.6 1406.0,176.4 1401.0,180.5 C1396.0,184.6 1388.4,190.2 1383.9,194.7 C1379.4,199.2 1378.0,206.2 1373.9,207.6 C1369.9,209.0 1362.9,203.1 1359.6,203.3 C1356.3,203.5 1355.4,205.7 1354.0,209.0 C1352.6,212.3 1352.3,220.1 1351.1,223.2 C1349.9,226.3 1347.5,226.8 1346.8,227.5" fill="none" stroke="#52726a" stroke-width="3.8" stroke-linecap="round" stroke-linejoin="round" />
<path d="M1439.0,185.0 C1440.2,185.8 1445.3,187.5 1446.5,190.0 C1447.7,192.5 1446.9,197.5 1446.0,200.0 C1445.1,202.5 1445.1,202.9 1441.0,205.0 C1436.9,207.1 1426.8,209.9 1421.5,212.5 C1416.2,215.1 1413.2,217.8 1409.5,220.4 C1405.8,223.0 1403.2,227.2 1399.0,228.0 C1394.8,228.8 1388.6,225.1 1384.0,225.0 C1379.4,224.9 1374.4,225.0 1371.5,227.5 C1368.6,230.0 1368.6,237.1 1366.5,240.0 C1364.4,242.9 1360.2,244.2 1359.0,245.0" fill="none" stroke="#52726a" stroke-width="3.8" stroke-linecap="round" stroke-linejoin="round" />
<path d="M1447.8,250.0 C1444.6,250.0 1435.5,249.2 1429.0,250.0 C1422.5,250.8 1414.8,253.3 1409.0,255.0 C1403.2,256.7 1398.2,259.6 1394.0,260.0 C1389.8,260.4 1386.9,255.8 1384.0,257.5 C1381.1,259.2 1377.8,266.7 1376.5,270.0 C1375.2,273.3 1376.5,276.2 1376.5,277.5" fill="none" stroke="#52726a" stroke-width="3.8" stroke-linecap="round" stroke-linejoin="round" />
<path d="M1437.8,277.5 C1436.3,278.3 1432.5,280.4 1429.0,282.5 C1425.5,284.6 1420.2,289.6 1416.5,290.0 C1412.8,290.4 1409.8,285.0 1406.5,285.0 C1403.2,285.0 1398.6,288.8 1396.5,290.0 C1394.4,291.2 1394.4,292.1 1394.0,292.5" fill="none" stroke="#52726a" stroke-width="3.8" stroke-linecap="round" stroke-linejoin="round" />
<path d="M1277,30 L1281,35" fill="none" stroke="#52726a" stroke-width="4.5" stroke-linecap="round" stroke-linejoin="round" />
<path d="M1396,40 L1407,24" fill="none" stroke="#52726a" stroke-width="4.5" stroke-linecap="round" stroke-linejoin="round" />
<path d="M1142,193 L1164,193" fill="none" stroke="#52726a" stroke-width="4.5" stroke-linecap="round" stroke-linejoin="round" />
<path d="M1465,171 L1486,164" fill="none" stroke="#52726a" stroke-width="4.5" stroke-linecap="round" stroke-linejoin="round" />
<path d="M1472,324 L1490,324" fill="none" stroke="#52726a" stroke-width="4.5" stroke-linecap="round" stroke-linejoin="round" />
<path d="M1136,350 L1152,342" fill="none" stroke="#52726a" stroke-width="4.5" stroke-linecap="round" stroke-linejoin="round" />
</g>
<rect x="278.00" y="234.40" width="1029.07" height="29.80" fill="#ec008c" stroke="#140810" stroke-width="2.0"/>
<text transform="translate(1252.17,258.20) scale(0.8150,1)" font-size="28.0" font-weight="bold" font-style="normal" fill="#fff" stroke="#fff" stroke-width="0.5">28,3</text>
<text transform="translate(134.20,258.00) scale(0.7987,1)" font-size="32.5" font-weight="normal" font-style="normal" fill="#000">Észtország</text>
<rect x="278.00" y="269.58" width="832.67" height="29.80" fill="#ec008c" stroke="#140810" stroke-width="2.0"/>
<text transform="translate(1054.27,293.38) scale(0.8150,1)" font-size="28.0" font-weight="bold" font-style="normal" fill="#fff" stroke="#fff" stroke-width="0.5">22,9</text>
<text transform="translate(170.10,293.27) scale(0.7736,1)" font-size="32.5" font-weight="normal" font-style="normal" fill="#000">Ausztria</text>
<rect x="278.00" y="304.76" width="803.58" height="29.80" fill="#ec008c" stroke="#140810" stroke-width="2.0"/>
<text transform="translate(1028.37,328.56) scale(0.8150,1)" font-size="28.0" font-weight="bold" font-style="normal" fill="#fff" stroke="#fff" stroke-width="0.5">22,1</text>
<text transform="translate(124.00,328.54) scale(0.8000,1)" font-size="32.5" font-weight="normal" font-style="normal" fill="#000">Csehország</text>
<rect x="278.00" y="339.94" width="785.39" height="29.80" fill="#ec008c" stroke="#140810" stroke-width="2.0"/>
<text transform="translate(1009.39,363.74) scale(0.8150,1)" font-size="28.0" font-weight="bold" font-style="normal" fill="#fff" stroke="#fff" stroke-width="0.5">21,6</text>
<text transform="translate(107.90,363.81) scale(0.8005,1)" font-size="32.5" font-weight="normal" font-style="normal" fill="#000">Németország</text>
<rect x="278.00" y="375.12" width="767.21" height="29.80" fill="#ec008c" stroke="#140810" stroke-width="2.0"/>
<text transform="translate(989.00,398.92) scale(0.8150,1)" font-size="28.0" font-weight="bold" font-style="normal" fill="#fff" stroke="#fff" stroke-width="0.5">21,1</text>
<text transform="translate(152.02,399.08) scale(0.7840,1)" font-size="32.5" font-weight="normal" font-style="normal" fill="#000">Szlovákia</text>
<rect x="278.00" y="410.30" width="683.56" height="29.80" fill="#ec008c" stroke="#140810" stroke-width="2.0"/>
<text transform="translate(907.35,434.10) scale(0.8150,1)" font-size="28.0" font-weight="bold" font-style="normal" fill="#fff" stroke="#fff" stroke-width="0.5">18,8</text>
<text transform="translate(91.51,434.35) scale(0.7957,1)" font-size="32.5" font-weight="normal" font-style="normal" fill="#000">Spanyolország</text>
<rect x="278.00" y="445.48" width="665.37" height="29.80" fill="#ec008c" stroke="#140810" stroke-width="2.0"/>
<text transform="translate(889.37,469.28) scale(0.8150,1)" font-size="28.0" font-weight="bold" font-style="normal" fill="#fff" stroke="#fff" stroke-width="0.5">18,3</text>
<text transform="translate(90.82,469.62) scale(0.7915,1)" font-size="32.5" font-weight="normal" font-style="normal" fill="#000">Nagy-Britannia</text>
<rect x="278.00" y="480.66" width="654.46" height="29.80" fill="#ec008c" stroke="#140810" stroke-width="2.0"/>
<text transform="translate(877.76,504.46) scale(0.8150,1)" font-size="28.0" font-weight="bold" font-style="normal" fill="#fff" stroke="#fff" stroke-width="0.5">18,0</text>
<text transform="translate(134.81,504.89) scale(0.7949,1)" font-size="32.5" font-weight="normal" font-style="normal" fill="#000">Finnország</text>
<rect x="278.00" y="515.84" width="588.99" height="29.80" fill="#ec008c" stroke="#140810" stroke-width="2.0"/>
<text transform="translate(812.49,539.64) scale(0.8150,1)" font-size="28.0" font-weight="bold" font-style="normal" fill="#fff" stroke="#fff" stroke-width="0.5">16,2</text>
<text transform="translate(154.95,540.16) scale(0.7827,1)" font-size="32.5" font-weight="normal" font-style="normal" fill="#000">Hollandia</text>
<rect x="278.00" y="551.02" width="585.36" height="29.80" fill="#a01f66" stroke="#140810" stroke-width="2.0"/>
<text transform="translate(810.25,574.82) scale(0.8150,1)" font-size="28.0" font-weight="bold" font-style="normal" fill="#fff" stroke="#fff" stroke-width="0.5">16,1</text>
<text transform="translate(198.14,575.43) scale(0.7833,1)" font-size="32.5" font-weight="bold" font-style="normal" fill="#000">EU28</text>
<rect x="278.00" y="586.20" width="574.45" height="29.80" fill="#ec008c" stroke="#140810" stroke-width="2.0"/>
<text transform="translate(799.74,610.00) scale(0.8150,1)" font-size="28.0" font-weight="bold" font-style="normal" fill="#fff" stroke="#fff" stroke-width="0.5">15,8</text>
<text transform="translate(195.17,610.70) scale(0.7745,1)" font-size="32.5" font-weight="normal" font-style="normal" fill="#000">Dánia</text>
<rect x="278.00" y="621.38" width="559.90" height="29.80" fill="#ec008c" stroke="#140810" stroke-width="2.0"/>
<text transform="translate(784.98,645.18) scale(0.8150,1)" font-size="28.0" font-weight="bold" font-style="normal" fill="#fff" stroke="#fff" stroke-width="0.5">15,4</text>
<text transform="translate(187.51,645.97) scale(0.7923,1)" font-size="32.5" font-weight="normal" font-style="normal" fill="#000">Ciprus</text>
<rect x="278.00" y="656.56" width="556.26" height="29.80" fill="#ec008c" stroke="#140810" stroke-width="2.0"/>
<text transform="translate(783.36,680.36) scale(0.8150,1)" font-size="28.0" font-weight="bold" font-style="normal" fill="#fff" stroke="#fff" stroke-width="0.5">15,3</text>
<text transform="translate(98.51,681.24) scale(0.7975,1)" font-size="32.5" font-weight="normal" font-style="normal" fill="#000">Franciaország</text>
<rect x="278.00" y="691.74" width="552.62" height="29.80" fill="#ec008c" stroke="#140810" stroke-width="2.0"/>
<text transform="translate(779.52,715.54) scale(0.8150,1)" font-size="28.0" font-weight="bold" font-style="normal" fill="#fff" stroke="#fff" stroke-width="0.5">15,2</text>
<text transform="translate(140.69,716.51) scale(0.8034,1)" font-size="32.5" font-weight="normal" font-style="normal" fill="#000">Lettország</text>
<rect x="278.00" y="726.92" width="548.99" height="29.80" fill="#a01f66" stroke="#140810" stroke-width="2.0"/>
<text transform="translate(774.28,750.72) scale(0.8150,1)" font-size="28.0" font-weight="bold" font-style="normal" fill="#fff" stroke="#fff" stroke-width="0.5">15,1</text>
<text transform="translate(87.90,751.78) scale(0.8005,1)" font-size="32.5" font-weight="bold" font-style="normal" fill="#000">Magyarország</text>
<rect x="278.00" y="762.10" width="538.08" height="29.80" fill="#ec008c" stroke="#140810" stroke-width="2.0"/>
<text transform="translate(761.27,785.90) scale(0.8150,1)" font-size="28.0" font-weight="bold" font-style="normal" fill="#fff" stroke="#fff" stroke-width="0.5">14,8</text>
<text transform="translate(172.43,787.05) scale(0.7908,1)" font-size="32.5" font-weight="normal" font-style="normal" fill="#000">Litvánia</text>
<rect x="278.00" y="797.28" width="530.80" height="29.80" fill="#ec008c" stroke="#140810" stroke-width="2.0"/>
<text transform="translate(754.00,821.08) scale(0.8150,1)" font-size="28.0" font-weight="bold" font-style="normal" fill="#fff" stroke="#fff" stroke-width="0.5">14,6</text>
<text transform="translate(126.11,822.32) scale(0.7958,1)" font-size="32.5" font-weight="normal" font-style="normal" fill="#000">Svédország</text>
<rect x="278.00" y="832.46" width="527.16" height="29.80" fill="#ec008c" stroke="#140810" stroke-width="2.0"/>
<text transform="translate(750.86,856.26) scale(0.8150,1)" font-size="28.0" font-weight="bold" font-style="normal" fill="#fff" stroke="#fff" stroke-width="0.5">14,5</text>
<text transform="translate(145.83,857.59) scale(0.7875,1)" font-size="32.5" font-weight="normal" font-style="normal" fill="#000">Portugália</text>
<rect x="278.00" y="867.64" width="487.16" height="29.80" fill="#ec008c" stroke="#140810" stroke-width="2.0"/>
<text transform="translate(711.04,891.44) scale(0.8150,1)" font-size="28.0" font-weight="bold" font-style="normal" fill="#fff" stroke="#fff" stroke-width="0.5">13,4</text>
<text transform="translate(167.24,892.86) scale(0.7863,1)" font-size="32.5" font-weight="normal" font-style="normal" fill="#000">Bulgária</text>
<rect x="278.00" y="902.82" width="378.05" height="29.80" fill="#ec008c" stroke="#140810" stroke-width="2.0"/>
<text transform="translate(600.53,926.62) scale(0.8150,1)" font-size="28.0" font-weight="bold" font-style="normal" fill="#fff" stroke="#fff" stroke-width="0.5">10,4</text>
<text transform="translate(108.91,928.13) scale(0.7952,1)" font-size="32.5" font-weight="normal" font-style="normal" fill="#000">Horvátország</text>
<rect x="278.00" y="938.00" width="367.14" height="29.80" fill="#ec008c" stroke="#140810" stroke-width="2.0"/>
<text transform="translate(591.73,961.80) scale(0.8150,1)" font-size="28.0" font-weight="bold" font-style="normal" fill="#fff" stroke="#fff" stroke-width="0.5">10,1</text>
<text transform="translate(158.84,963.40) scale(0.7859,1)" font-size="32.5" font-weight="normal" font-style="normal" fill="#000">Románia</text>
<rect x="278.00" y="973.18" width="359.86" height="29.80" fill="#ec008c" stroke="#140810" stroke-width="2.0"/>
<text transform="translate(598.04,996.98) scale(0.8400,1)" font-size="28.0" font-weight="bold" font-style="normal" fill="#fff" stroke="#fff" stroke-width="0.5">9,9</text>
<text transform="translate(168.49,998.67) scale(0.8027,1)" font-size="32.5" font-weight="normal" font-style="normal" fill="#000">Belgium</text>
<rect x="278.00" y="1008.36" width="312.58" height="29.80" fill="#ec008c" stroke="#140810" stroke-width="2.0"/>
<text transform="translate(549.76,1032.16) scale(0.8400,1)" font-size="28.0" font-weight="bold" font-style="normal" fill="#fff" stroke="#fff" stroke-width="0.5">8,6</text>
<text transform="translate(132.19,1033.94) scale(0.8025,1)" font-size="32.5" font-weight="normal" font-style="normal" fill="#000">Luxemburg</text>
<rect x="278.00" y="1043.54" width="279.85" height="29.80" fill="#ec008c" stroke="#140810" stroke-width="2.0"/>
<text transform="translate(517.44,1067.34) scale(0.8400,1)" font-size="28.0" font-weight="bold" font-style="normal" fill="#fff" stroke="#fff" stroke-width="0.5">7,7</text>
<text transform="translate(93.60,1069.21) scale(0.8000,1)" font-size="32.5" font-weight="normal" font-style="normal" fill="#000">Lengyelország</text>
<rect x="278.00" y="1078.72" width="236.20" height="29.80" fill="#ec008c" stroke="#140810" stroke-width="2.0"/>
<text transform="translate(472.47,1102.52) scale(0.8400,1)" font-size="28.0" font-weight="bold" font-style="normal" fill="#fff" stroke="#fff" stroke-width="0.5">6,5</text>
<text transform="translate(119.01,1104.48) scale(0.7955,1)" font-size="32.5" font-weight="normal" font-style="normal" fill="#000">Olaszország</text>
<rect x="278.00" y="1113.90" width="163.47" height="29.80" fill="#ec008c" stroke="#140810" stroke-width="2.0"/>
<text transform="translate(400.64,1137.70) scale(0.8400,1)" font-size="28.0" font-weight="bold" font-style="normal" fill="#fff" stroke="#fff" stroke-width="0.5">4,5</text>
<text transform="translate(198.54,1139.75) scale(0.7857,1)" font-size="32.5" font-weight="normal" font-style="normal" fill="#000">Málta</text>
<rect x="278.00" y="1149.08" width="105.27" height="29.80" fill="#ec008c" stroke="#140810" stroke-width="2.0"/>
<text transform="translate(342.55,1172.88) scale(0.8400,1)" font-size="28.0" font-weight="bold" font-style="normal" fill="#fff" stroke="#fff" stroke-width="0.5">2,9</text>
<text transform="translate(150.52,1175.02) scale(0.7835,1)" font-size="32.5" font-weight="normal" font-style="normal" fill="#000">Szlovénia</text>
<text transform="translate(87.25,125.80) scale(0.7849,1)" font-size="58.7" font-weight="bold" font-style="normal" fill="#000" stroke="#000" stroke-width="1.0" stroke-linejoin="round">Nők bére az EU-tagállamokban (2014)</text>
<text transform="translate(89.31,188.30) scale(0.8242,1)" font-size="34.8" font-weight="normal" font-style="italic" fill="#000">2014-ben ennyi százalékkal volt kevesebb a nők fizetése a férfiakéhoz képest:</text>
<text transform="translate(805.6,1273.6) scale(0.786,1)" font-size="22"><tspan font-style="italic">Forrás: Eurostat / </tspan><tspan font-weight="bold">MTVA Sajtó- és Fotóarchívum</tspan><tspan> / </tspan><tspan font-weight="bold">MTI</tspan></text>
<text transform="translate(1434.92,1273.80) scale(0.7793,1)" font-size="22" font-weight="normal" font-style="italic" fill="#000">www.mti.hu</text>
<rect x="1242.3" y="1251.3" width="3.4" height="32.2" fill="#000"/>
<rect x="1330.0" y="1251.3" width="3.4" height="32.2" fill="#000"/>
<rect x="1410.6" y="1251.3" width="3.4" height="32.2" fill="#000"/>
<circle cx="1287.7" cy="1266" r="23.0" fill="none" stroke="#4a2468" stroke-width="2.8"/>
<line x1="1264.5" y1="1266" x2="1269" y2="1266" stroke="#4e2a6e" stroke-width="1.5"/>
<circle cx="1287.7" cy="1266" r="17.6" fill="none" stroke="#000" stroke-width="3"/>
<text transform="translate(1287.7,1269.6) scale(0.92,1)" font-size="8.6" font-weight="bold" text-anchor="middle">MTVA</text>
<ellipse cx="1372.1" cy="1266" rx="9.0" ry="8.3" fill="none" stroke="#e0202a" stroke-width="2.6"/>
<line x1="1372" y1="1257.4" x2="1396.2" y2="1257.4" stroke="#e0202a" stroke-width="2.6"/>
<line x1="1348" y1="1275" x2="1372.5" y2="1275" stroke="#e0202a" stroke-width="2.6"/>
<circle cx="1372.1" cy="1266" r="16.8" fill="none" stroke="#000" stroke-width="3"/>
<rect x="21" y="21" width="1501.5" height="1209.5" fill="none" stroke="#000" stroke-width="2"/>
<rect x="1.5" y="1.5" width="1540" height="1300" fill="none" stroke="#000" stroke-width="3"/>
<rect x="1543" y="0" width="1" height="1304" fill="#8c8c8c"/><rect x="0" y="1303" width="1544" height="1" fill="#8c8c8c"/>
</svg></body></html>
